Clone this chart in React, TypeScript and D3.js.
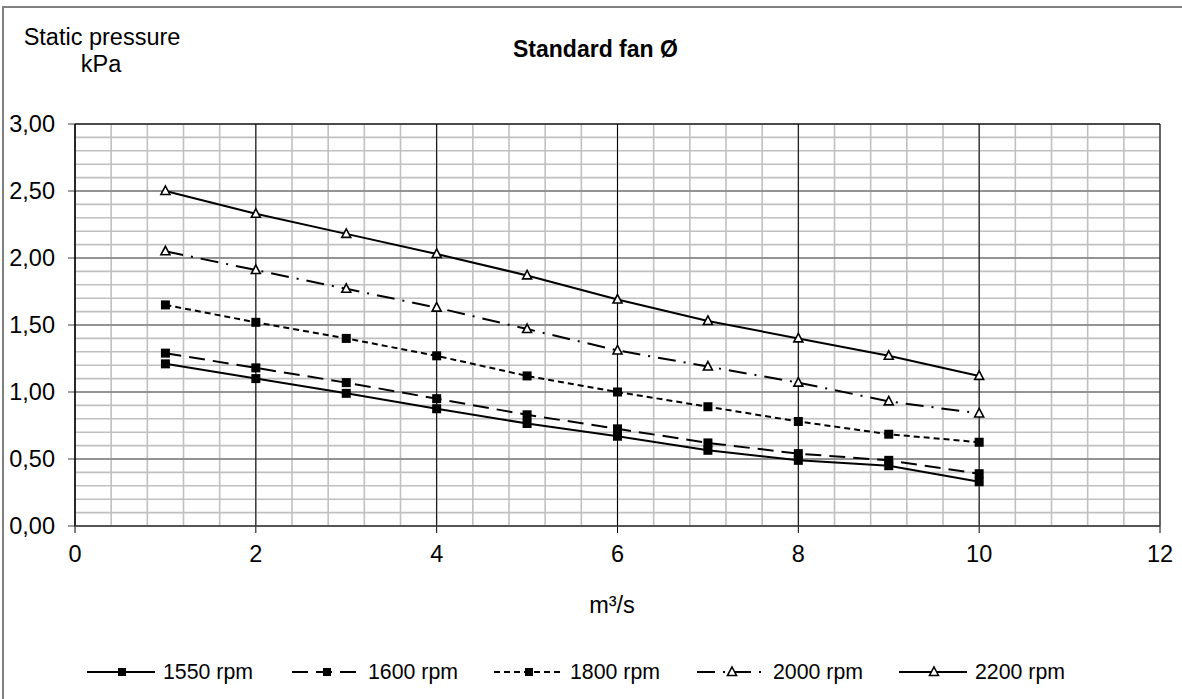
import * as d3 from 'd3';

// flow (m³/s) and static pressure (kPa) per fan speed
const flow = [1, 2, 3, 4, 5, 6, 7, 8, 9, 10];
const rpm1550 = [1.21, 1.1, 0.99, 0.875, 0.765, 0.67, 0.565, 0.49, 0.45, 0.33];
const rpm1600 = [1.29, 1.18, 1.07, 0.95, 0.83, 0.725, 0.62, 0.54, 0.49, 0.39];
const rpm1800 = [1.65, 1.52, 1.4, 1.27, 1.12, 1.0, 0.89, 0.78, 0.685, 0.625];
const rpm2000 = [2.05, 1.91, 1.77, 1.63, 1.47, 1.31, 1.19, 1.07, 0.93, 0.84];
const rpm2200 = [2.5, 2.33, 2.18, 2.03, 1.87, 1.69, 1.53, 1.4, 1.27, 1.12];
const seriesNames = ['1550 rpm', '1600 rpm', '1800 rpm', '2000 rpm', '2200 rpm'];
const xTicks = [0, 2, 4, 6, 8, 10, 12];
const yTicks = [0, 0.5, 1, 1.5, 2, 2.5, 3];

const font = 'Liberation Sans, Arial, sans-serif';

const series = [
  { name: seriesNames[0], values: rpm1550, dash: null, marker: 'square' },
  { name: seriesNames[1], values: rpm1600, dash: '16,8', marker: 'square' },
  { name: seriesNames[2], values: rpm1800, dash: '6,4', marker: 'square' },
  { name: seriesNames[3], values: rpm2000, dash: '18,8,2,8', marker: 'triangle' },
  { name: seriesNames[4], values: rpm2200, dash: null, marker: 'triangle' },
];

const legendX = [87, 292, 494, 697, 899];

function Marker({ type, x, y, size = 9 }) {
  if (type === 'square') {
    return <rect x={x - size / 2} y={y - size / 2} width={size} height={size} fill="#000" />;
  }
  return (
    <path
      d={`M${x},${y - 5}L${x + 4.5},${y + 3.5}L${x - 4.5},${y + 3.5}Z`}
      fill="#fff"
      stroke="#000"
      strokeWidth={1.6}
    />
  );
}

export default function App() {
  const width = 1182;
  const height = 699;
  const left = 75;
  const right = 1160;
  const top = 124;
  const bottom = 526;

  const x = d3.scaleLinear().domain([0, 12]).range([left, right]);
  const y = d3.scaleLinear().domain([0, 3]).range([bottom, top]);

  const minorX = d3.range(0, 12.001, 0.4);
  const minorY = d3.range(0, 3.001, 0.1);

  const line = d3
    .line()
    .x((d) => x(d[0]))
    .y((d) => y(d[1]));

  return (
    <svg
      width={width}
      height={height}
      style={{ position: 'absolute', left: 0, top: 0, background: '#fff' }}
    >
      <rect x={3} y={7} width={1200} height={720} fill="#fff" stroke="#808080" strokeWidth={2} />

      {/* minor grid */}
      {minorX.map((v, i) => (
        <line key={'mx' + i} x1={x(v)} x2={x(v)} y1={top} y2={bottom} stroke="#c0c0c0" strokeWidth={1.6} />
      ))}
      {minorY.map((v, i) => (
        <line key={'my' + i} x1={left} x2={right} y1={y(v)} y2={y(v)} stroke="#c0c0c0" strokeWidth={1.6} />
      ))}
      {/* major grid */}
      {yTicks.map((v) => (
        <line key={'gy' + v} x1={left - 7} x2={right} y1={y(v)} y2={y(v)} stroke="#808080" strokeWidth={1.5} />
      ))}
      {xTicks.map((v) => (
        <line key={'gx' + v} x1={x(v)} x2={x(v)} y1={top} y2={bottom + 7} stroke="#000" strokeWidth={1} />
      ))}
      <line x1={left} x2={right} y1={top} y2={top} stroke="#000" strokeWidth={1} />
      <line x1={left} x2={left} y1={top} y2={bottom} stroke="#000" strokeWidth={1.2} />
      <line x1={left} x2={right} y1={bottom} y2={bottom} stroke="#404040" strokeWidth={1.5} />

      {/* tick labels */}
      {yTicks.map((v) => (
        <text key={'ty' + v} x={55} y={y(v) + 8} textAnchor="end" fontFamily={font} fontSize={23.5}>
          {v.toFixed(2).replace('.', ',')}
        </text>
      ))}
      {xTicks.map((v) => (
        <text key={'tx' + v} x={x(v)} y={562} textAnchor="middle" fontFamily={font} fontSize={23.5}>
          {v}
        </text>
      ))}

      {/* series */}
      {series.map((s) => {
        const pts = flow.map((f, i) => [f, s.values[i]]);
        return (
          <g key={s.name}>
            <path d={line(pts)} fill="none" stroke="#000" strokeWidth={2} strokeDasharray={s.dash || undefined} />
            {pts.map((p, i) => (
              <Marker key={i} type={s.marker} x={x(p[0])} y={y(p[1])} />
            ))}
          </g>
        );
      })}

      {/* titles */}
      <text x={102} y={45} textAnchor="middle" fontFamily={font} fontSize={23.5}>Static pressure</text>
      <text x={101} y={72} textAnchor="middle" fontFamily={font} fontSize={23.5}>kPa</text>
      <text x={513} y={57} fontFamily={font} fontSize={23} fontWeight="bold">Standard fan Ø</text>
      <text x={612} y={613} textAnchor="middle" fontFamily={font} fontSize={23.5}>m³/s</text>

      {/* legend */}
      {series.map((s, i) => {
        const lx = legendX[i];
        return (
          <g key={'lg' + s.name}>
            <line x1={lx} x2={lx + 68} y1={672} y2={672} stroke="#000" strokeWidth={2} strokeDasharray={s.dash || undefined} />
            <Marker type={s.marker} x={lx + 35} y={672} size={8} />
            <text x={lx + 76} y={679} fontFamily={font} fontSize={21.3}>{s.name}</text>
          </g>
        );
      })}
    </svg>
  );
}
